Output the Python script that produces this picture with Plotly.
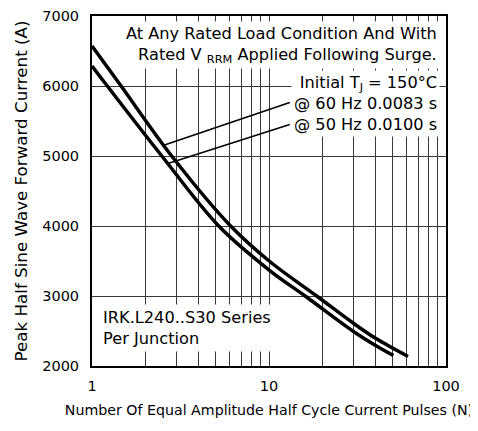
import plotly.graph_objects as go

# ---- data ----
n_60hz = [1, 1.46, 2.82, 6.07, 10.1, 18.6, 30, 40, 61]
i_60hz = [6571, 6000, 5000, 4000, 3493, 3000, 2610, 2395, 2136]

n_50hz = [1, 1.22, 2.48, 5.2, 10.1, 16, 30, 40, 50.4]
i_50hz = [6286, 6000, 5000, 4000, 3364, 3000, 2493, 2293, 2150]

x_tick_vals = [1, 10, 100]
x_tick_text = ["1", "10", "100"]
x_minor_vals = [2, 3, 4, 5, 6, 7, 8, 9, 20, 30, 40, 50, 60, 70, 80, 90]
y_tick_vals = [2000, 3000, 4000, 5000, 6000, 7000]

# leader lines: (curve point) -> (label point)
leader_60 = ([2.52, 13.1], [5150, 5764])
leader_50 = ([2.69, 13.1], [4893, 5450])

FONT = "DejaVu Sans"
GRID = "#3a3a3a"

fig = go.Figure()
for nx, iy in ((n_60hz, i_60hz), (n_50hz, i_50hz)):
    fig.add_trace(go.Scatter(x=nx, y=iy, mode="lines",
                             line=dict(color="black", width=3.5, shape="spline", smoothing=1.0),
                             showlegend=False, hoverinfo="skip"))
for lx, ly in (leader_60, leader_50):
    fig.add_trace(go.Scatter(x=lx, y=ly, mode="lines",
                             line=dict(color="black", width=1.6),
                             showlegend=False, hoverinfo="skip"))

# the page body adds an 8px margin, so the figure is 8px smaller on each leading side
fig.update_layout(
    width=470, height=423,
    margin=dict(l=84, r=32, t=8, b=65, autoexpand=False),
    paper_bgcolor="white", plot_bgcolor="white",
    font=dict(family=FONT, color="black", size=14),
    xaxis=dict(type="log", range=[0, 2], tickvals=x_tick_vals, ticktext=x_tick_text,
               showgrid=True, gridcolor=GRID, gridwidth=1,
               minor=dict(tickvals=x_minor_vals, showgrid=True, gridcolor=GRID, gridwidth=1, ticks=""),
               showline=True, linecolor="black", linewidth=2, mirror=True,
               ticks="", ticklabelstandoff=6, zeroline=False, automargin=False,
               tickfont=dict(size=14.5),
               title=dict(text="Number Of Equal Amplitude Half Cycle Current Pulses (N)",
                          font=dict(size=14.2), standoff=12)),
    yaxis=dict(range=[2000, 7000], tickvals=y_tick_vals,
               showgrid=True, gridcolor=GRID, gridwidth=1,
               showline=True, linecolor="black", linewidth=2, mirror=True,
               ticks="", ticklabelstandoff=8, zeroline=False, automargin=False,
               tickfont=dict(size=14.5),
               title=dict(text="Peak Half Sine Wave Forward Current (A)",
                          font=dict(size=16.7), standoff=10)),
)

fig.add_annotation(xref="paper", yref="paper", x=0.983, y=0.985, xanchor="right", yanchor="top",
                   text="At Any Rated Load Condition And With<br>Rated V <sub>RRM</sub> Applied Following Surge.",
                   align="right", showarrow=False, bgcolor="white", borderpad=2,
                   font=dict(size=16.2, family=FONT))
fig.add_annotation(xref="paper", yref="paper", x=0.983, y=0.846, xanchor="right", yanchor="top",
                   text="Initial T<sub>J</sub> = 150°C<br>@ 60 Hz 0.0083 s<br>@ 50 Hz 0.0100 s",
                   align="right", showarrow=False, bgcolor="white", borderpad=2,
                   font=dict(size=16.2, family=FONT))
fig.add_annotation(xref="paper", yref="paper", x=0.02, y=0.178, xanchor="left", yanchor="top",
                   text="IRK.L240..S30 Series<br>Per Junction",
                   align="left", showarrow=False, bgcolor="white", borderpad=3,
                   font=dict(size=16.2, family=FONT))

fig.write_html("out.html")
